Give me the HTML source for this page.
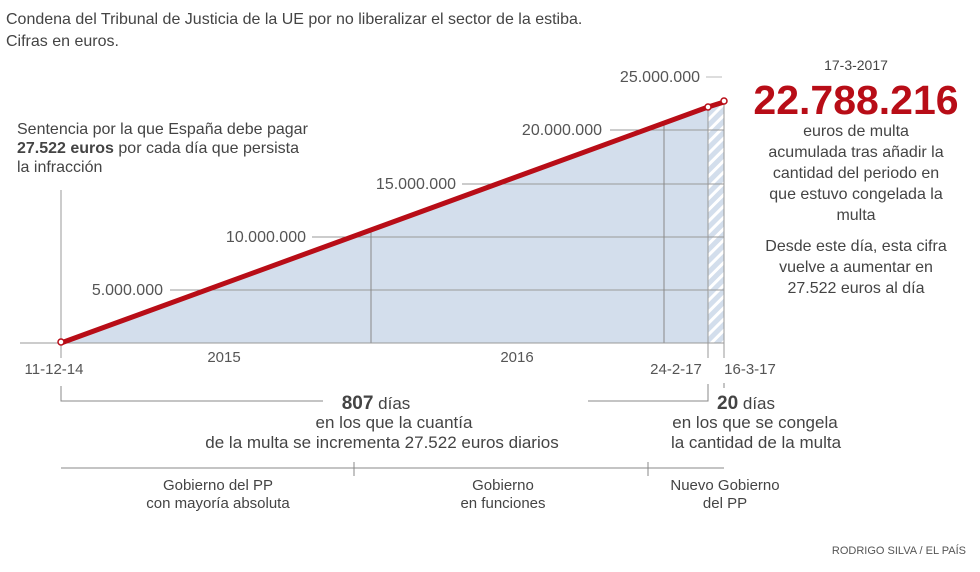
<!DOCTYPE html>
<html><head><meta charset="utf-8"><style>
body{margin:0;background:#fff}
svg{display:block;font-family:"Liberation Sans",sans-serif}
</style></head><body>
<svg width="980" height="572" viewBox="0 0 980 572">
<defs>
<pattern id="h" width="8" height="8" patternUnits="userSpaceOnUse" patternTransform="rotate(45)">
<rect width="8" height="8" fill="#d3deec"/><rect width="3" height="8" fill="#fff"/>
</pattern>
</defs>
<text x="6" y="24" font-size="16" fill="#444">Condena del Tribunal de Justicia de la UE por no liberalizar el sector de la estiba.</text>
<text x="6" y="46" font-size="16" fill="#444">Cifras en euros.</text>
<polygon points="61,343 708,107 708,343" fill="#d3deec"/>
<polygon points="708,107 724,102 724,343 708,343" fill="url(#h)"/>
<g stroke="#999" stroke-width="1">
<line x1="170" y1="290" x2="724" y2="290"/>
<line x1="312" y1="237" x2="724" y2="237"/>
<line x1="462" y1="184" x2="724" y2="184"/>
<line x1="610" y1="130" x2="724" y2="130"/>
<line x1="706" y1="77" x2="722" y2="77" stroke="#bbb"/>
<line x1="371" y1="228" x2="371" y2="343" stroke="#888"/>
<line x1="664" y1="124" x2="664" y2="343" stroke="#888"/>
<line x1="708" y1="107" x2="708" y2="358"/>
<line x1="724" y1="102" x2="724" y2="358"/>
<line x1="20" y1="343" x2="724" y2="343"/>
<line x1="61" y1="190" x2="61" y2="358"/>
</g>
<g font-size="16" fill="#555" text-anchor="end">
<text x="163" y="295">5.000.000</text>
<text x="306" y="242">10.000.000</text>
<text x="456" y="189">15.000.000</text>
<text x="602" y="135">20.000.000</text>
<text x="700" y="82">25.000.000</text>
</g>
<polyline points="61,343 708,107 724,102" fill="none" stroke="#b80d17" stroke-width="5" stroke-linejoin="round"/>
<circle cx="61" cy="342" r="3" fill="#fff" stroke="#b80d17" stroke-width="1.5"/>
<circle cx="708" cy="107" r="3" fill="#fff" stroke="#b80d17" stroke-width="1.5"/>
<circle cx="724" cy="101" r="3" fill="#fff" stroke="#b80d17" stroke-width="1.5"/>
<g font-size="15" fill="#555" text-anchor="middle">
<text x="224" y="362">2015</text>
<text x="517" y="362">2016</text>
<text x="54" y="374">11-12-14</text>
<text x="676" y="374">24-2-17</text>
<text x="750" y="374">16-3-17</text>
</g>
<g font-size="16" fill="#444">
<text x="17" y="134">Sentencia por la que España debe pagar</text>
<text x="17" y="153"><tspan font-weight="bold">27.522 euros</tspan> por cada día que persista</text>
<text x="17" y="172">la infracción</text>
</g>
<g text-anchor="middle" fill="#444">
<text x="856" y="70" font-size="14">17-3-2017</text>
<text x="856" y="114" font-size="41" font-weight="bold" fill="#b80d17">22.788.216</text>
<g font-size="16">
<text x="856" y="136">euros de multa</text>
<text x="856" y="157">acumulada tras añadir la</text>
<text x="856" y="178">cantidad del periodo en</text>
<text x="856" y="199">que estuvo congelada la</text>
<text x="856" y="220">multa</text>
<text x="856" y="251">Desde este día, esta cifra</text>
<text x="856" y="272">vuelve a aumentar en</text>
<text x="856" y="293">27.522 euros al día</text>
</g>
</g>
<g stroke="#888" fill="none">
<polyline points="61,386 61,401 323,401"/>
<polyline points="588,401 708,401 708,384"/>
<line x1="724" y1="383" x2="724" y2="388"/>
<line x1="61" y1="468" x2="724" y2="468"/>
<line x1="354" y1="462" x2="354" y2="476"/>
<line x1="648" y1="462" x2="648" y2="476"/>
</g>
<g text-anchor="middle" fill="#444" font-size="17">
<text x="376" y="409"><tspan font-weight="bold" font-size="19">807</tspan> días</text>
<text x="394" y="428">en los que la cuantía</text>
<text x="382" y="448">de la multa se incrementa 27.522 euros diarios</text>
<text x="746" y="409"><tspan font-weight="bold" font-size="19">20</tspan> días</text>
<text x="755" y="428">en los que se congela</text>
<text x="756" y="448">la cantidad de la multa</text>
</g>
<g text-anchor="middle" fill="#444" font-size="15">
<text x="218" y="490">Gobierno del PP</text>
<text x="218" y="508">con mayoría absoluta</text>
<text x="503" y="490">Gobierno</text>
<text x="503" y="508">en funciones</text>
<text x="725" y="490">Nuevo Gobierno</text>
<text x="725" y="508">del PP</text>
</g>
<text x="966" y="554" font-size="11" fill="#555" text-anchor="end">RODRIGO SILVA / EL PAÍS</text>
</svg>
</body></html>
